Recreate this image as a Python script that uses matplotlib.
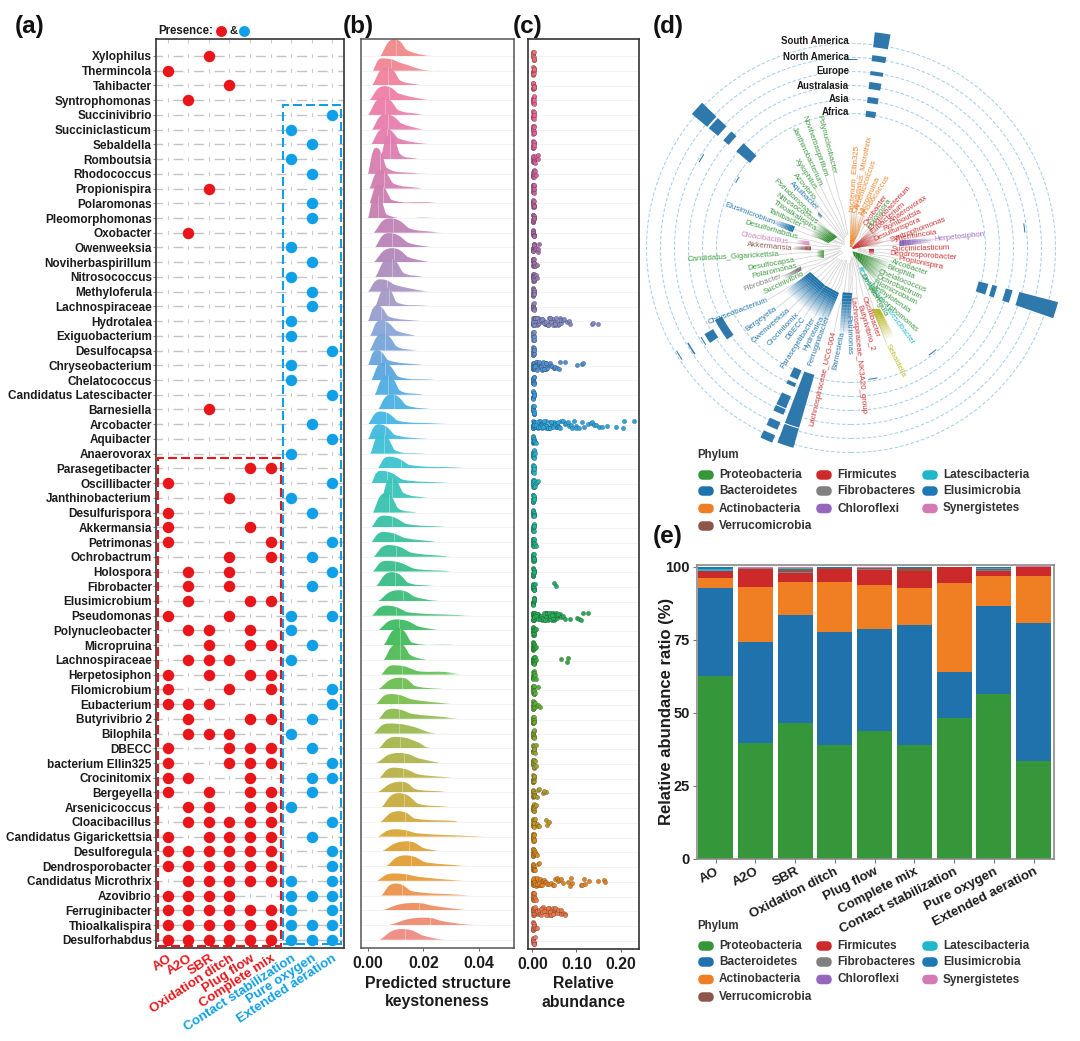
import numpy as np
import matplotlib
matplotlib.use("Agg")
import matplotlib.pyplot as plt
from matplotlib.path import Path
from matplotlib.patches import PathPatch, Wedge, Circle, FancyBboxPatch, Rectangle
from matplotlib.collections import PolyCollection
from matplotlib.colors import LinearSegmentedColormap, to_rgb

plt.rcParams['font.family'] = ['Liberation Sans', 'DejaVu Sans']
plt.rcParams['lines.scale_dashes'] = False

# ---------------------------------------------------------------- data
genera = ["Xylophilus","Thermincola","Tahibacter","Syntrophomonas","Succinivibrio","Succiniclasticum",
 "Sebaldella","Romboutsia","Rhodococcus","Propionispira","Polaromonas","Pleomorphomonas","Oxobacter",
 "Owenweeksia","Noviherbaspirillum","Nitrosococcus","Methyloferula","Lachnospiraceae","Hydrotalea",
 "Exiguobacterium","Desulfocapsa","Chryseobacterium","Chelatococcus","Candidatus Latescibacter",
 "Barnesiella","Arcobacter","Aquibacter","Anaerovorax","Parasegetibacter","Oscillibacter",
 "Janthinobacterium","Desulfurispora","Akkermansia","Petrimonas","Ochrobactrum","Holospora","Fibrobacter",
 "Elusimicrobium","Pseudomonas","Polynucleobacter","Micropruina","Lachnospiraceae","Herpetosiphon",
 "Filomicrobium","Eubacterium","Butyrivibrio 2","Bilophila","DBECC","bacterium Ellin325","Crocinitomix",
 "Bergeyella","Arsenicicoccus","Cloacibacillus","Candidatus Gigarickettsia","Desulforegula",
 "Dendrosporobacter","Candidatus Microthrix","Azovibrio","Ferruginibacter","Thioalkalispira","Desulforhabdus"]
processes = ["AO","A2O","SBR","Oxidation ditch","Plug flow","Complete mix","Contact stabilization","Pure oxygen","Extended aeration"]
presence = [[2],[0],[3],[1],[8],[6],[7],[6],[7],[2],[7],[7],[1],[6],[7],[6],[7],[7],[6],[6],[8],[6],[6],[8],[2],[7],[8],[6],
 [4,5],[0,8],[3,6],[0,7],[0,4],[0,5,8],[3,5,7],[1,3,8],[1,3,7],[1,4,5],[0,3,6,8],[1,2,4,6],[2,4,5,7],[1,2,3,6],[0,2,4,5],
 [0,3,5,8],[0,1,2,8],[1,4,5,7],[1,2,3,6],[0,3,4,5,7],[0,3,4,5,8],[0,1,4,7,8],[0,2,4,5,7],[1,2,4,5,6],[1,2,3,4,5,8],
 [0,2,3,4,5,7],[0,1,2,3,4,5,8],[0,1,2,3,4,5,8],[1,2,3,4,5,6,8],[0,1,2,3,6,7,8],[0,1,2,3,4,5,6,8],[0,1,2,3,4,5,6,7,8],
 [0,1,2,3,4,5,6,7,8]]

# keystoneness ridges, units of 1e-3
r_start = [4.4,1.7,1.4,.5,0,1.4,1.1,4.4,0,.5,.5,0,2,2.4,2,2.6,0,2.6,0,.8,.5,0,1.2,2.4,3.6,0,0,.8,3.5,1.2,5,1.7,1.2,1.2,2,1.7,2.9,3.6,1.4,3.5,5.6,5.6,4.7,3.5,2.9,3.8,2,3.8,2.9,4.1,3.2,4.8,4.4,3.5,4.8,6.5,3.2,4.8,4.8,7.4,4.1]
r_peak = [9.5,5,6.8,6,5.4,6.2,6,7.8,2.9,4.4,3.8,2.9,7.8,7.4,8.6,7.8,4.4,6.5,3.2,4.4,5.3,3,5.3,6.8,8.3,4.4,3.8,4.7,7.4,4.4,8.3,6.2,5.6,5.4,7.4,6.5,8.6,11,6.5,10.4,11,11,9.2,11.6,8,8.6,7.4,9.8,11,9.2,12,11,11,9.8,14,13.4,9.2,9.8,16.8,20.4,12.2]
r_shoulder = [14,12.2,11.6,11,11,12.2,11,11.6,6.8,9.2,8.6,6.8,15.2,14.6,14.6,12.8,9.8,10.4,7.4,10.4,10.4,7.4,11,11.6,14,11,9.8,9.8,15.2,12.8,12.8,11,14,13.4,15.8,17,14.6,17,14.6,18.2,15.8,15.2,18.2,17,15.8,15.8,16.4,18.2,18.2,18.2,17,18.2,17,17.6,20,20.6,18.2,15.8,23,26.6,20]
r_knee = [20,20.6,17.6,20.6,18.2,19.4,20.6,17,15.8,18.2,21.8,20.6,23,21.8,21.8,18.8,20,20.6,18.2,16.4,15.8,18.8,23,18.8,23,23,20,19.4,31.4,26.6,20.6,17,26.6,24.2,27.8,27.8,21.8,24.2,32.6,25.4,30.2,20.6,27.8,25.4,27.8,27.8,23,21.2,25.4,27.8,26.6,27.8,31.4,39.8,25.4,31.4,32.6,33.8,33.8,35,26.6]
r_end = [24.8,32.6,20.6,24.2,20,21.2,30.2,19.4,26,20,28.4,41,27.8,24.8,23.6,20.6,23.6,23.3,23.6,17.6,20,23.6,25.4,20.6,25.2,35,28.4,24.2,38.6,32,23.3,18.2,32,24.8,30.2,31.4,29,33.2,38.6,27.6,33.2,24.2,35,32.6,31.4,33.8,33.2,26.6,26.6,32.6,30.2,31.4,33.2,44.6,26.6,38,38,38.6,38.6,44.6,32]
r_median = [10.2,8.4,7.2,7.4,6,7.2,6.8,8,4.4,5.6,5.3,3.6,8.9,8.6,9.5,8.6,6.8,7.4,4.8,6.2,6,4.7,6.2,7.2,9.5,6.4,6,5.6,11.9,6.8,8.6,7.4,8.6,9.2,10,9.6,9.8,12.5,10,11,11.5,11.5,12.2,12.2,10.8,11,11,11.6,13,12.5,12.2,12.8,13.2,13.7,14.9,15.5,13.8,12.2,18.5,22.4,13.4]
d_peak = [50,37,55,42,52,46,48,72,78,55,55,70,43,43,42,55,37,55,47,46,50,45,52,58,45,38,44,60,35,37,60,58,35,30,35,32,42,32,30,33,50,50,28,35,30,30,30,34,30,30,32,42,32,22,30,32,22,36,22,22,32]
d_shoulder = [18,22,15,20,14,18,18,15,18,15,10,10,12,14,15,12,20,12,14,15,12,15,10,12,12,10,12,10,10,10,15,12,10,12,12,8,10,12,10,12,8,15,10,10,14,15,20,17,14,10,10,10,10,10,10,12,12,13,14,12,12]
d_knee = [3,2,3,2,3,1,2,2,3,2,3,1,3,2,1,2,2,2,1,2,2,2,1,2,1,3,1,1,3,2,1,1,2,1,2,2,2,1,2,1,1,1,8,2,2,5,2,3,1,2,3,2,3,1,1,3,1,2,2,2,1]

# relative abundance
base_abund = [.0005,.001,.0013,.0016,.002,.0023,.0026,.003,.0033,.0036,.004,.0045]
extra_abund = {
 7:[.006,.009,.012,.014], 8:[.006,.008], 13:[.006,.009,.012,.016,.014], 14:[.006,.01], 15:[.006,.009,.011],
 18:[.002,.004,.006,.008,.01,.012,.014,.016,.018,.02,.022,.024,.026,.028,.03,.032,.034,.036,.038,.04,.042,.044,.046,.048,.05,.052,.054,.056,.058,.06,.062,.064,.066,.07,.072,.078,.082,.086,.135,.137,.149,
     .003,.007,.011,.015,.019,.023,.027,.031,.035,.039,.043,.047,.051],
 21:[.002,.004,.006,.008,.01,.012,.014,.016,.018,.02,.022,.024,.026,.028,.03,.032,.034,.036,.038,.04,.042,.045,.048,.05,.052,.055,.06,.063,.074,.102,.113,.114,.003,.007,.011,.015,.019,.023,.027,.031],
 25:[.002,.004,.006,.008,.01,.012,.014,.016,.018,.02,.022,.024,.026,.028,.03,.032,.034,.036,.038,.04,.042,.044,.046,.048,.05,.052,.054,.056,.058,.06,.063,.066,.07,.073,.076,.08,.084,.088,.09,.094,.098,.1,.105,.112,.118,.125,.132,.136,.14,.145,.15,.158,.168,.189,.206,.208,.23,
     .003,.007,.011,.015,.019,.023,.027,.031,.035,.039,.043,.047,.051,.055,.059,.003,.009,.013,.017,.021,.025],
 26:[.006,.008], 27:[.006], 29:[.006,.008,.01,.012], 33:[.006,.008],
 36:[.006,.05,.053],
 38:[.002,.004,.006,.008,.01,.012,.014,.016,.018,.02,.022,.024,.026,.028,.03,.032,.034,.036,.038,.04,.042,.044,.046,.048,.05,.052,.054,.056,.058,.06,.062,.066,.07,.074,.085,.102,.105,.11,.115,.125,
     .003,.007,.011,.015,.019,.023,.027,.031,.035,.039,.043,.047,.051,.055,.059,.005,.009,.013,.017,.021,.025,.029,.033,.037,.041,.045],
 39:[.006,.008], 40:[.006,.009], 41:[.006,.008,.065,.08,.078],
 42:[.006,.009], 43:[.007,.012], 44:[.006,.01,.014,.018], 47:[.006,.008], 48:[.006,.009],
 50:[.007,.01,.012,.015,.025,.03,.027], 51:[.006,.008], 52:[.007,.01,.012,.016,.03,.033,.038],
 54:[.006,.009,.01], 55:[.007,.014,.016], 57:[.006,.008],
 58:[.002,.004,.006,.008,.01,.012,.014,.016,.018,.02,.022,.024,.026,.028,.03,.032,.034,.036,.038,.04,.042,.044,.046,.048,.05,.052,.054,.056,.06,.063,.066,.07,.073,.075,
     .003,.007,.011,.015,.019,.023,.027,.031,.035,.039,.043,.047,.051,.055,.059,.065],
 56:[.002,.004,.006,.008,.01,.012,.014,.016,.018,.02,.022,.024,.026,.028,.03,.034,.038,.042,.046,.05,.052,.055,.058,.06,.065,.07,.08,.085,.088,.09,.11,.112,.117,.12,.128,.149,.162,.165,.003,.007,.011,.015,.019,.023],
 59:[.006,.008,.01], 60:[.006],
}
jitter = [-.22,.08,.25,-.08,.16,-.26,.01,.2,-.15,.11,-.03,.26,-.2,.05,.19,-.11,-.25,.14,.0,.23,-.18,.07,-.07,.15]

# stacked bars, %
proteobacteria = [62.5,39.6,46.5,38.9,43.6,39.0,48.2,56.4,33.4]
bacteroidetes  = [30.2,34.5,36.9,38.8,35.1,41.2,15.8,30.3,47.2]
actinobacteria = [3.6,18.8,11.3,17.1,15.2,12.5,30.6,10.2,16.1]
firmicutes     = [2.1,6.5,3.3,4.3,5.1,5.7,5.3,1.8,3.1]
fibrobacteres  = [.3,.1,.1,.1,.1,.1,0,.3,0]
chloroflexi    = [0,0,.1,.1,.1,.1,0,0,.1]
verrucomicrobia= [0,.2,1.2,.3,.4,1.0,.1,.1,.1]
latescibacteria= [.6,0,.1,.1,0,0,0,.4,0]
elusimicrobia  = [.5,0,.2,.1,.1,.2,0,.3,0]
synergistetes  = [0,.1,.2,.1,.2,.2,0,.1,.1]

phyla_legend = [["Proteobacteria","Bacteroidetes","Actinobacteria","Verrucomicrobia"],
                ["Firmicutes","Fibrobacteres","Chloroflexi"],
                ["Latescibacteria","Elusimicrobia","Synergistetes"]]
phylum_colors = {"Proteobacteria":"#36973A","Bacteroidetes":"#1F72AB","Actinobacteria":"#F07F23","Verrucomicrobia":"#8C564B",
                 "Firmicutes":"#CC2A2A","Fibrobacteres":"#808080","Chloroflexi":"#9467BD","Latescibacteria":"#1FB7C9",
                 "Elusimicrobia":"#1F77B4","Synergistetes":"#D17AB3","Olive":"#BCBD22"}

# panel d: geographic bars (clockwise angle from north, ring index, height, angular width)
regions = ["Africa","Asia","Australasia","Europe","North America","South America"]
bar_angle = [8.4]*6 + [312.2]*5 + [106.9]*4 + [237.8]*3 + [198.4]*3 + [203.8]*6 + [83.4,142,170.5,301,301,237.8,238,0]
bar_ring  = [0,1,2,3,4,5, 0,2,3,4,5, 0,1,2,3, 1,2,4, 0,4,5, 0,1,2,3,4,5, 3,0,0,3,0,3,5,4]
bar_height= [6,6,7,4,6,15, 18,7,12,15,6, 10,5,7,40, 8,10,1.5, 55,16,6, 10,4,13,6,8,8, 1,1,1,1,1,1,1,1]
bar_width = [4.2]*6 + [4.2]*5 + [4.5]*4 + [8.5,3.5,4] + [4.6]*3 + [3.5]*6 + [3,4,4,3,3,3,3,4]

tips = [
 ("Polynucleobacter","Proteobacteria",550,462,507,292),("Noviherbaspirillum","Proteobacteria",527,472,463,292),
 ("Janthinobacterium","Proteobacteria",510,497,430,325),("Xylophilus","Proteobacteria",495,510,437,420),
 ("Azovibrio","Proteobacteria",492,540,433,465),("Aquibacter","Bacteroidetes",500,570,425,495),
 ("Pseudomonas","Proteobacteria",480,585,370,478),("Nitrosococcus","Proteobacteria",500,610,400,540),
 ("Thioalkalispira","Proteobacteria",497,630,375,550),("Tahibacter","Proteobacteria",455,620,358,575),
 ("Elusimicrobium","Elusimicrobia",375,610,228,555),("Desulforhabdus","Proteobacteria",443,655,285,610),
 ("Cloacibacillus","Synergistetes",415,668,275,645),("Akkermansia","Verrucomicrobia",428,688,293,675),
 ("Candidatus_Gigarickettsia","Proteobacteria",388,705,117,720),("Desulfocapsa","Proteobacteria",435,720,296,745),
 ("Polaromonas","Proteobacteria",440,740,305,772),("Fibrobacter","Fibrobacteres",395,770,283,810),
 ("Succinivibrio","Proteobacteria",462,762,342,820),("Chryseobacterium","Bacteroidetes",355,840,172,910),
 ("Bergeyella","Bacteroidetes",380,865,292,930),("Owenweeksia","Bacteroidetes",418,870,305,970),
 ("Crocinitomix","Bacteroidetes",445,880,355,975),("DBECC","Bacteroidetes",462,893,408,960),
 ("Parasegetibacter","Bacteroidetes",492,895,395,1048),("Hydrotalea","Bacteroidetes",518,890,465,993),
 ("Ferruginibacter","Bacteroidetes",535,890,473,1062),("Lachnospiraceae_UCG-004","Firmicutes",553,935,487,1215),
 ("Barnesiella","Bacteroidetes",580,935,557,1045),("Petrimonas","Bacteroidetes",595,885,598,1000),
 ("Lachnospiraceae_NK3A20_group","Firmicutes",607,830,642,1180),("Butyrivibrio_2","Firmicutes",625,855,665,995),
 ("Oscillibacter","Firmicutes",640,830,682,950),("Candidatus_Latescibacter","Latescibacteria",628,750,805,990),
 ("Sebaldella","Olive",710,975,758,1070),("Desulforegula","Proteobacteria",635,765,705,885),
 ("Pleomorphomonas","Proteobacteria",650,805,803,935),("Methyloferula","Proteobacteria",660,795,788,882),
 ("Filomicrobium","Proteobacteria",670,785,800,850),("Ochrobactrum","Proteobacteria",680,770,808,830),
 ("Chelatococcus","Proteobacteria",685,755,843,818),("Bilophila","Proteobacteria",710,740,788,770),
 ("Arcobacter","Proteobacteria",725,725,830,760),("Propionispira","Firmicutes",745,718,880,745),
 ("Dendrosporobacter","Firmicutes",718,702,918,715),("Succiniclasticum","Firmicutes",725,690,898,685),
 ("Herpetosiphon","Chloroflexi",852,660,1000,645),("Thermincola","Firmicutes",735,660,855,640),
 ("Syntrophomonas","Firmicutes",720,662,885,598),("Desulfurispora","Firmicutes",673,660,810,600),
 ("Romboutsia","Firmicutes",700,630,810,575),("Anaerovorax","Firmicutes",720,605,832,530),
 ("Eubacterium","Firmicutes",665,640,760,555),("Exiguobacterium","Firmicutes",660,630,795,485),
 ("Holospora","Proteobacteria",655,625,738,515),("Oxobacter","Firmicutes",645,615,705,530),
 ("Rhodococcus","Actinobacteria",640,590,716,468),("Micropruina","Actinobacteria",635,585,692,460),
 ("Arsenicicoccus","Actinobacteria",622,570,682,400),("Candidatus_Microthrix","Actinobacteria",613,578,658,347),
 ("bacterium_Ellin325","Actinobacteria",605,575,620,380)]

fans = [("#2E8B2E",(562,652),(535,670),(505,610),(482,645)),("#F08A30",(600,682),(606,682),(600,575),(648,590)),
 ("#C62828",(605,685),(610,688),(665,628),(702,668)),("#2E8B2E",(608,695),(612,708),(722,728),(682,790)),
 ("#C62828",(657,688),(672,688),(657,706),(672,706)),("#1F72AB",(578,818),(606,820),(568,945),(600,940)),
 ("#1F72AB",(480,757),(525,797),(405,815),(468,868)),("#1F72AB",(525,797),(567,820),(468,868),(530,910)),
 ("#B8B82A",(665,868),(690,868),(706,962),(732,948)),("#1FB7C9",(628,745),(640,742),(636,758),(648,756)),
 ("#8A63B8",(748,662),(748,680),(850,655),(850,668)),("#D17AB3",(478,665),(478,678),(440,660),(440,672)),
 ("#8C564B",(483,680),(483,692),(430,680),(430,690)),("#777777",(452,740),(455,752),(398,770),(403,780)),
 ("#1F72AB",(435,620),(428,638),(375,600),(372,615)),("#2E8B2E",(522,692),(522,715),(500,692),(500,712)),
 ("#1A5A96",(505,578),(516,588),(503,590),(513,598))]

# ---------------------------------------------------------------- helpers
W, H = 1080, 1041
fig = plt.figure(figsize=(W/100, H/100), dpi=100, facecolor="white")
def pax(x0, y0, x1, y1, **kw):
    return fig.add_axes([x0/W, 1-y1/H, (x1-x0)/W, (y1-y0)/H], **kw)
PX = 0.72
DARK = "#1c1c1c"
rows = np.arange(len(genera))
ROW_TOP, ROW_BOTTOM = -1.154, 60.56

def frame(ax, color, lw):
    for s in ax.spines.values():
        s.set_color(color); s.set_linewidth(lw)

# ---------------------------------------------------------------- (a)
ax = pax(156, 39, 344, 948)
ax.set_xlim(-.57, 8.57); ax.set_ylim(ROW_BOTTOM, ROW_TOP)
for i in rows:
    ax.plot([-.57, 8.57], [i, i], color="#c4c4c4", lw=1.0, ls=(3.6*PX, (10*PX, 10.6*PX)), zorder=1)
for c in range(9):
    ax.plot([c, c], [ROW_TOP, ROW_BOTTOM], color="#cccccc", lw=.8, ls=(0, (4*PX, 10.73*PX)), zorder=1)
for i, cols in enumerate(presence):
    for c in cols:
        ax.scatter(c, i, s=68, color="#E8161B" if c <= 5 else "#0FA0E8", lw=0, zorder=3)
ax.add_patch(Rectangle((-.47, 60.4), 5.97, -33.1, fill=False, ec="#E8161B", lw=1.5, ls=(0, (9*PX, 4*PX)), zorder=4))
ax.add_patch(Rectangle((5.6, 60.3), 2.83, -56.95, fill=False, ec="#0FA0E8", lw=1.5, ls=(0, (9*PX, 4*PX)), zorder=4))
ax.set_yticks(rows); ax.set_yticklabels(genera, fontsize=8.5, fontweight="bold", color=DARK)
ax.set_xticks(range(9))
ax.set_xticklabels(processes, fontsize=9.6, fontweight="bold", rotation=33, ha="right", va="top", rotation_mode="anchor")
for k, t in enumerate(ax.get_xticklabels()):
    t.set_color("#E8161B" if k <= 5 else "#0FA0E8")
ax.tick_params(axis="y", length=2, width=.7, color="#888888", pad=1)
ax.tick_params(axis="x", length=0, pad=3)
frame(ax, "#333333", 1.2)

# ---------------------------------------------------------------- (b)
anchors = [(0,"#F08A8A"),(3,"#F07FA8"),(6,"#E47FB0"),(10,"#CC80B0"),(14,"#B488BC"),(17,"#A59CC8"),(19,"#8BA5D8"),
           (22,"#5AA8E0"),(25,"#45B8E6"),(28,"#3EC4D0"),(31,"#3CC4B0"),(36,"#3BBE88"),(40,"#44BC5C"),(44,"#7CC050"),
           (47,"#A8B850"),(50,"#C0B048"),(53,"#D8A838"),(56,"#E89C38"),(58,"#EE9060"),(60,"#EF8C84")]
ridge_cmap = LinearSegmentedColormap.from_list("ridge", [(p/60, c) for p, c in anchors])

ax = pax(361, 39, 514, 948)
ROW_DENS = 1/44
def ridge_path(xs, hs):
    # bezier outline: rising foot, broad rounded top, shoulder, knee, tail
    x, y = xs, hs
    s2 = (y[3]-y[1])/(x[3]-x[1]); s3 = (y[4]-y[2])/(x[4]-x[2])
    verts = [(x[0], y[0]),
             (x[0]+.3*(x[1]-x[0]), y[0]+.22*(y[1]-y[0])), (x[1]-.62*(x[1]-x[0]), y[1]), (x[1], y[1]),
             (x[1]+.62*(x[2]-x[1]), y[1]), (x[2]-.25*(x[2]-x[1]), y[2]-s2*.25*(x[2]-x[1])), (x[2], y[2]),
             (x[2]+.35*(x[3]-x[2]), y[2]+s2*.35*(x[3]-x[2])), (x[3]-.35*(x[3]-x[2]), y[3]-s3*.35*(x[3]-x[2])), (x[3], y[3]),
             (x[3]+.35*(x[4]-x[3]), y[3]+s3*.35*(x[4]-x[3])), (x[4]-.3*(x[4]-x[3]), y[4]), (x[4], y[4]),
             (x[0], y[0])]
    codes = [Path.MOVETO] + [Path.CURVE4]*12 + [Path.CLOSEPOLY]
    return Path(verts, codes)
for i in rows:
    ax.plot([-1, 1], [i, i], color="#f1f1f1", lw=.6, zorder=.5)
for i in rows:
    xs = np.array([r_start[i], r_peak[i], r_shoulder[i], r_knee[i], r_end[i]])/1000
    dens = np.array([0, d_peak[i], d_shoulder[i], d_knee[i], 0])*ROW_DENS
    ys = i - dens
    path = ridge_path(xs, ys)
    patch = PathPatch(path, transform=ax.transData, fc="none", ec="none")
    col = ridge_cmap(i/60)
    g = np.linspace(xs[0], xs[-1], 96)
    alpha = np.interp(g, [xs[0], xs[2], xs[3], xs[4]], [.97, .95, .85, 0])
    rgba = np.ones((1, 96, 4)); rgba[0, :, :3] = col[:3]; rgba[0, :, 3] = alpha
    im = ax.imshow(rgba, extent=(xs[0], xs[-1], i, i-dens.max()-.02), aspect="auto", zorder=1+i*.01, interpolation="bilinear")
    im.set_clip_path(patch)
    m = r_median[i]/1000
    ln, = ax.plot([m, m], [i, i-dens.max()], color="white", lw=.55, alpha=.42, zorder=1.005+i*.01)
    ln.set_clip_path(patch)
ax.set_xlim(-.00252, .05262); ax.set_ylim(ROW_BOTTOM, ROW_TOP)
ax.set_yticks([]); ax.set_xticks([0, .02, .04]); ax.set_xticklabels(["0.00","0.02","0.04"], fontsize=11.4, fontweight="bold", color=DARK)
ax.tick_params(axis="x", length=2.5, width=.7, color="#666666", pad=3.5)
ax.set_xlabel("Predicted structure\nkeystoneness", fontsize=11.4, fontweight="bold", color=DARK, labelpad=3, linespacing=1.3)
frame(ax, "#555555", 1.1)

# ---------------------------------------------------------------- (c)
ax = pax(528, 39, 639, 949)
for i in rows:
    ax.plot([-1, 1], [i, i], color="#f1f1f1", lw=.6, zorder=.5)
    vals = base_abund + extra_abund.get(i, [])
    y = [i + jitter[(k*5 + i) % len(jitter)] for k in range(len(vals))]
    col = np.array(ridge_cmap(i/60)[:3])**1.35
    ax.scatter(vals, y, s=10, color=[col], edgecolor=(.1, .1, .1, .45), lw=.3, zorder=2)
ax.set_xlim(-.0097, .2414); ax.set_ylim(ROW_BOTTOM, ROW_TOP)
ax.set_yticks([]); ax.set_xticks([0, .1, .2]); ax.set_xticklabels(["0.00","0.10","0.20"], fontsize=11.4, fontweight="bold", color=DARK)
ax.tick_params(axis="x", length=2.5, width=.7, color="#666666", pad=3.5)
ax.set_xlabel("Relative\nabundance", fontsize=11.4, fontweight="bold", color=DARK, labelpad=3, linespacing=1.3)
frame(ax, "#333333", 1.2)

# ---------------------------------------------------------------- (d)
ax = pax(645, 20, 1070, 460)
ax.set_xlim(645-851, 1070-851); ax.set_ylim(248-460, 248-20); ax.axis("off")
ax.patch.set_alpha(0)
def T(zx, zy):
    return (zx-603)/3, (685-zy)/3
ring_base = [132, 146, 160, 174, 188, 202]
for r in ring_base:
    ax.add_patch(Circle((0, 0), r+2.5, fill=False, ec="#A9D0E8", lw=.75, ls=(0, (3.5*PX, 2*PX)), zorder=1))
for a, rg, h, wd in zip(bar_angle, bar_ring, bar_height, bar_width):
    ax.add_patch(Wedge((0, 0), ring_base[rg]+h, 90-a-wd/2, 90-a+wd/2, width=h, fc="#2F78AC", ec="none", zorder=2))
# tree branches
for name, ph, ix, iy, ox, oy in tips:
    x, y = T(ix, iy)
    ax.plot([x, .72*x, .5*x+1.5, .18*x], [y, .72*y, .5*y-1.5, .18*y], color="#d2d2d2", lw=.55, zorder=2, solid_joinstyle="round")
# clade fans
for col, a0, a1, b0, b1 in fans:
    a0, a1, b0, b1 = map(lambda p: np.array(T(*p)), (a0, a1, b0, b1))
    n = 14
    polys, cols = [], []
    for k in range(n):
        t0, t1 = k/n, (k+1)/n
        polys.append([a0+(b0-a0)*t0, a1+(b1-a1)*t0, a1+(b1-a1)*t1, a0+(b0-a0)*t1])
        cols.append((*to_rgb(col), min(1, 1.15*(1-t0)**1.0)))
    ax.add_collection(PolyCollection(polys, facecolors=cols, edgecolors="none", zorder=3))
# tip labels
for name, ph, ix, iy, ox, oy in tips:
    x, y = T(ix, iy); x2, y2 = T(ox, oy)
    ang = np.degrees(np.arctan2(y2-y, x2-x))
    if x2 < x:
        ang += 180; ha = "right"
    else:
        ha = "left"
    ax.text(x, y, name.replace(" ", "_"), rotation=ang, rotation_mode="anchor", ha=ha, va="center",
            fontsize=5.7, color=phylum_colors[ph], alpha=.95, zorder=4)

# ---------------------------------------------------------------- (e)
ax = pax(697, 565, 1054, 858.6)
series = [("Proteobacteria",proteobacteria),("Bacteroidetes",bacteroidetes),("Actinobacteria",actinobacteria),
          ("Firmicutes",firmicutes),("Fibrobacteres",fibrobacteres),("Chloroflexi",chloroflexi),
          ("Verrucomicrobia",verrucomicrobia),("Latescibacteria",latescibacteria),("Elusimicrobia",elusimicrobia),
          ("Synergistetes",synergistetes)]
bottom = np.zeros(9)
for name, v in series:
    ax.bar(range(9), v, bottom=bottom, width=.88, color=phylum_colors[name], lw=0)
    bottom += np.array(v)
ax.set_xlim(-.47, 8.51); ax.set_ylim(0, 100.6)
ax.set_yticks([0, 25, 50, 75, 100]); ax.set_yticklabels(["0","25","50","75","100"], fontsize=10.5, fontweight="bold", color=DARK)
ax.set_xticks(range(9)); ax.set_xticklabels(processes, fontsize=9.6, fontweight="bold", rotation=27, ha="right", va="top", rotation_mode="anchor", color=DARK)
ax.tick_params(axis="both", length=3, width=.8, color="#777777", pad=2)
ax.set_ylabel("Relative abundance ratio (%)", fontsize=12, fontweight="bold", color=DARK)
ax.yaxis.set_label_coords(-.065, .5)
frame(ax, "#8a8a8a", 1.2)

# ---------------------------------------------------------------- overlay (pixel space)
ov = fig.add_axes([0, 0, 1, 1], zorder=20)
ov.set_xlim(0, W); ov.set_ylim(H, 0); ov.axis("off"); ov.patch.set_alpha(0)
for t, x, y in [("(a)",15,26),("(b)",343,26),("(c)",513,26),("(d)",653,26),("(e)",653,537)]:
    ov.text(x, y, t, fontsize=17.5, fontweight="bold", color="#111111", va="center", ha="left")
ov.text(158, 30.5, "Presence:", fontsize=8.3, fontweight="bold", color=DARK, va="center")
ov.scatter([221], [30.5], s=62, color="#E8161B", lw=0)
ov.text(233, 30.5, "&", fontsize=8, fontweight="bold", color=DARK, va="center", ha="center")
ov.scatter([243.5], [30.5], s=62, color="#0FA0E8", lw=0)
for t, y in zip(regions, [112, 99, 86, 71, 57, 41]):
    ov.text(849, y, t, fontsize=6.9, fontweight="bold", color=DARK, ha="right", va="center")

def legend(y0):
    ov.text(697, y0, "Phylum", fontsize=8.3, fontweight="bold", color="#333333", va="center")
    offs = [20, 36, 53.5, 71]
    xs = [(706, 719), (824, 837), (930, 943)]
    for (mx, tx), names in zip(xs, phyla_legend):
        for k, n in enumerate(names):
            y = y0 + offs[k]
            ov.add_patch(FancyBboxPatch((mx-6.5, y-3.5), 13, 7, boxstyle="round,pad=0,rounding_size=3.5",
                                        mutation_aspect=1, fc=phylum_colors[n], ec=phylum_colors[n], lw=1.8))
            ov.text(tx, y, n, fontsize=8.5, fontweight="bold", color="#333333", va="center")
legend(455)
legend(926)

fig.savefig("out.png", dpi=100, facecolor="white")
